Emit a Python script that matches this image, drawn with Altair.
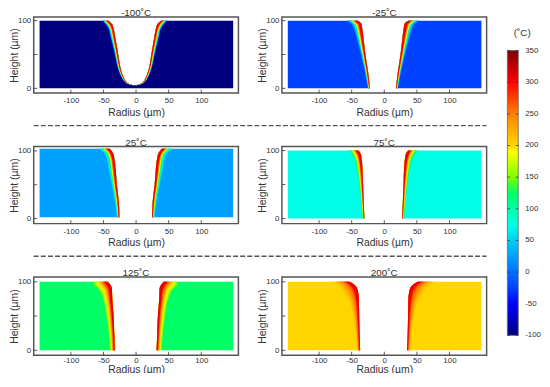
import altair as alt
import pandas as pd

FONT = "Liberation Sans"
INK = "#333333"
FRAME = "#555555"

stop_temps = [-100, -50, -25, 25, 75, 125, 150, 190, 200, 250, 300, 350]
stop_colors = ["#00007e", "#0000ff", "#0040ff", "#00a0ff", "#00ffe6", "#00ff66",
               "#80ff00", "#ffff00", "#ffd500", "#ff8000", "#ff0000", "#7f0000"]

x_ticks = [-100, -50, 0, 50, 100]
y_ticks = [0, 50, 100]
bar_ticks = [-100, -50, 0, 50, 100, 150, 200, 250, 300, 350]

panels = [
    dict(title="-100˚C", T=-100, c=-2, bottom=0, top=100, ydom=[-7, 105.5],
         H=[4.5, 5, 6, 11, 16, 25, 35, 50, 75, 90, 95, 100],
         W=[0, 4, 7.5, 14, 17, 20.5, 23, 25.5, 30, 33, 35, 41],
         levels={-40: [0.6, 1.2, 1.8, 2.8, 3.4, 4, 4.7, 5.5, 7.5, 9, 11, 9],
                 40: [.5, 1, 1.5, 2.4, 2.9, 3.4, 4, 4.7, 6.4, 7.6, 9.3, 7.6],
                 100: [.4, .8, 1.3, 2, 2.4, 2.9, 3.4, 4, 5.4, 6.5, 7.9, 6.5],
                 190: [.3, .7, 1, 1.6, 1.9, 2.3, 2.7, 3.2, 4.3, 5.2, 6.4, 5.2],
                 250: [.25, .5, .8, 1.3, 1.5, 1.8, 2.1, 2.5, 3.4, 4, 5, 4],
                 305: [.2, .4, .6, .9, 1, 1.3, 1.5, 1.8, 2.4, 2.9, 3.5, 2.9]}),
    dict(title="-25˚C", T=-25, c=-2, bottom=0, top=100, ydom=[-7, 105.5],
         H=[0, 25, 50, 75, 90, 95, 100],
         W=[20, 23, 27, 30, 32, 33, 39],
         levels={10: [3, 5, 7, 11, 14, 16, 17],
                 50: [2.6, 4.2, 5.9, 9.4, 12, 13.5, 14],
                 100: [2.2, 3.6, 5, 8, 10, 11.5, 12],
                 190: [1.7, 2.9, 4, 6.4, 8, 9.3, 10],
                 250: [1.4, 2.3, 3.1, 5, 6.3, 7.2, 7.6],
                 305: [1, 1.6, 2.2, 3.5, 4.5, 5.1, 5.4]}),
    dict(title="25˚C", T=25, c=-0.5, bottom=2, top=103, ydom=[-7.5, 106.5],
         H=[2, 25, 50, 75, 90, 97, 103],
         W=[25, 26, 29, 31, 33, 35, 40],
         levels={50: [4, 6, 8, 11, 12, 14, 17],
                 85: [3.4, 5.1, 6.8, 9.4, 10.2, 11.9, 14.5],
                 130: [2.9, 4.3, 5.8, 7.9, 8.6, 10, 12.2],
                 190: [2.3, 3.5, 4.6, 6.4, 7, 8.1, 9.9],
                 250: [1.8, 2.7, 3.6, 5, 5.4, 6.3, 7.7],
                 305: [1.3, 1.9, 2.6, 3.5, 3.8, 4.5, 5.4]}),
    dict(title="75˚C", T=75, c=-1.5, bottom=0, top=100, ydom=[-7.5, 106],
         H=[0, 25, 50, 75, 90, 95, 100],
         W=[29, 30, 31, 32, 33.5, 34.5, 38],
         levels={95: [3, 4.5, 6.5, 10, 13, 15, 16],
                 130: [2.6, 3.8, 5.5, 8.5, 11, 12.8, 13.6],
                 170: [2.2, 3.2, 4.7, 7.2, 9.4, 10.8, 11.5],
                 200: [1.8, 2.7, 3.9, 6, 7.8, 9, 9.6],
                 250: [1.4, 2, 2.9, 4.5, 5.9, 6.8, 7.2],
                 305: [1, 1.4, 2, 3.2, 4.2, 4.8, 5.1]}),
    dict(title="125˚C", T=125, c=-0.5, bottom=0, top=100, ydom=[-7, 107],
         H=[0, 25, 50, 75, 90, 95, 100],
         W=[32, 33, 34, 36, 36.5, 38.5, 43],
         levels={150: [7.5, 8.5, 11, 14, 21, 25, 22],
                 175: [6.4, 7.2, 9.4, 11.9, 17.9, 21.3, 18.7],
                 200: [5.3, 6, 7.7, 9.8, 14.7, 17.5, 15.4],
                 230: [4, 4.5, 5.8, 7.4, 11.1, 13.3, 11.7],
                 265: [3, 3.4, 4.4, 5.6, 8.4, 10, 8.8],
                 310: [1.9, 2.1, 2.8, 3.5, 5.3, 6.3, 5.5]}),
    dict(title="200˚C", T=200, c=-1, bottom=0, top=100, ydom=[-7, 107],
         H=[0, 25, 50, 75, 90, 97, 100],
         W=[36, 37, 37.5, 38, 40.5, 46.5, 53],
         levels={212: [5, 6, 9, 16, 24, 25, 26],
                 228: [4, 4.8, 7.2, 12.8, 19.2, 20, 20.8],
                 250: [3, 3.6, 5.4, 9.6, 14.4, 15, 15.6],
                 275: [2, 2.4, 3.6, 6.4, 9.6, 10, 10.4],
                 305: [1.3, 1.6, 2.3, 4.2, 6.2, 6.5, 6.8]}),
]

PANEL_W = 207
color_scale = alt.Scale(domain=stop_temps, range=stop_colors, interpolate="rgb")
x_scale = alt.Scale(domain=[-157, 157], nice=False, zero=False)
plain_label = "'' + datum.value"


def panel(p, height, label_pad=3.5, title_pad=3):
    y_scale = alt.Scale(domain=p["ydom"], nice=False, zero=False)
    xaxis = alt.Axis(values=x_ticks, ticks=False, domain=False, grid=False, labelFont=FONT,
                     labelExpr=plain_label,
                     labelFontSize=8, labelColor=INK, labelPadding=label_pad, title="Radius (µm)",
                     titleFont=FONT, titleFontSize=10.5, titleFontWeight="normal",
                     titleColor=INK, titlePadding=title_pad)
    yaxis = alt.Axis(values=y_ticks, ticks=False, domain=False, grid=False, labelFont=FONT,
                     labelExpr=plain_label,
                     labelFontSize=8, labelColor=INK, labelPadding=3, title="Height (µm)",
                     titleFont=FONT, titleFontSize=10.5, titleFontWeight="normal",
                     titleColor=INK, titlePadding=-2)
    base_x = alt.X("x:Q", scale=x_scale, axis=xaxis)
    base_y = alt.Y("y:Q", scale=y_scale, axis=yaxis)

    back = alt.Chart(pd.DataFrame({"x": [-148], "x2": [149], "y": [p["bottom"]],
                                   "y2": [p["top"]], "t": [p["T"]]})).mark_rect().encode(
        x=base_x, x2="x2:Q", y=base_y, y2="y2:Q",
        color=alt.Color("t:Q", scale=color_scale, legend=None))

    # the white opening runs just past the sample's edge so no sliver of it shows
    hole_h = list(p["H"])
    hole_h[-1] += 1
    if p["W"][0] > 0:
        hole_h[0] -= 1
    hole = alt.Chart(pd.DataFrame({
        "x": [p["c"] - w for w in p["W"]],
        "x2": [p["c"] + w for w in p["W"]],
        "y": hole_h})).mark_area(orient="horizontal", color="white", interpolate="monotone").encode(
        x=base_x, x2="x2:Q", y=base_y)

    rows = []
    for t, offs in p["levels"].items():
        for side in (-1, 1):
            for h, w, o in zip(p["H"], p["W"], offs):
                rows.append({"t": t, "side": side, "y": h,
                             "x": p["c"] + side * w,
                             "x2": p["c"] + side * (w + o)})
    bands = alt.Chart(pd.DataFrame(rows)).mark_area(orient="horizontal", interpolate="monotone").encode(
        x=base_x, x2="x2:Q", y=base_y,
        color=alt.Color("t:Q", scale=color_scale, legend=None),
        detail=["t:N", "side:N"])

    xt = alt.Chart(pd.DataFrame({"x": x_ticks})).mark_rule(color=INK, strokeWidth=0.8).encode(
        x=alt.X("x:Q", scale=x_scale), y=alt.value(height - 3.5), y2=alt.value(height))
    yt = alt.Chart(pd.DataFrame({"y": y_ticks})).mark_rule(color=INK, strokeWidth=0.8).encode(
        y=alt.Y("y:Q", scale=y_scale), x=alt.value(0), x2=alt.value(3.5))

    return alt.layer(back, hole, bands, xt, yt).properties(
        width=PANEL_W, height=height,
        title=alt.Title(p["title"], font=FONT, fontSize=10, fontWeight="normal",
                        color=INK, offset=-1),
        view=alt.ViewConfig(stroke=FRAME, strokeWidth=1.5, fill="white"))


def blank(width, height):
    return alt.Chart(pd.DataFrame({"a": [0]})).mark_point(opacity=0).encode(
        x=alt.value(0), y=alt.value(0)).properties(
        width=width, height=height, view=alt.ViewConfig(stroke=None))


def sep():
    return alt.Chart(pd.DataFrame({"a": [0]})).mark_rule(
        color=FRAME, strokeWidth=1.3, strokeDash=[5, 2.2]).encode(
        x=alt.value(0), x2=alt.value(458), y=alt.value(33)).properties(
        width=PANEL_W, height=54, view=alt.ViewConfig(stroke=None))


# Colour bar cell: starts 44px right of the second panel, drawn back towards it.
BAR_W = 1
BAR_L, BAR_R = -23, -12
bar_scale = alt.Scale(domain=[-100, 350], range=[322, 34], nice=False, zero=False)
gradient = alt.Gradient(gradient="linear", x1=0, x2=0, y1=1, y2=0,
                        stops=[alt.GradientStop(offset=(t + 100) / 450, color=c)
                               for t, c in zip(stop_temps, stop_colors)])
bar_rect = alt.Chart(pd.DataFrame({"y": [-100], "y2": [350]})).mark_rect(
    fill=gradient, stroke="#666666", strokeWidth=0.8).encode(
    x=alt.value(BAR_L), x2=alt.value(BAR_R),
    y=alt.Y("y:Q", scale=bar_scale, axis=None),
    y2="y2:Q")
tick_df = pd.DataFrame({"y": bar_ticks, "s": [str(v) for v in bar_ticks]})
bar_t1 = alt.Chart(tick_df).mark_rule(color=INK, strokeWidth=0.8).encode(
    y=alt.Y("y:Q", scale=bar_scale, axis=None), x=alt.value(BAR_L), x2=alt.value(BAR_L + 2.5))
bar_t2 = alt.Chart(tick_df).mark_rule(color=INK, strokeWidth=0.8).encode(
    y=alt.Y("y:Q", scale=bar_scale, axis=None), x=alt.value(BAR_R - 2.5), x2=alt.value(BAR_R))
bar_labels = alt.Chart(tick_df).mark_text(
    font=FONT, fontSize=8, color=INK, align="left", baseline="middle").encode(
    y=alt.Y("y:Q", scale=bar_scale, axis=None), x=alt.value(BAR_R + 7), text="s:N")
bar_title = alt.Chart(pd.DataFrame({"s": ["(˚C)"]})).mark_text(
    font=FONT, fontSize=10, color=INK, align="center", baseline="middle").encode(
    text="s:N", x=alt.value(BAR_L + 15), y=alt.value(16))
bar = alt.layer(bar_rect, bar_t1, bar_t2, bar_labels, bar_title).properties(
    width=BAR_W, height=77, view=alt.ViewConfig(stroke=None))

cells = [panel(panels[0], 77), panel(panels[1], 77), bar,
         sep(), blank(PANEL_W, 54), blank(BAR_W, 54),
         panel(panels[2], 78), panel(panels[3], 78), blank(BAR_W, 78),
         sep(), blank(PANEL_W, 54), blank(BAR_W, 54),
         panel(panels[4], 79, label_pad=1.5, title_pad=0),
         panel(panels[5], 79, label_pad=1.5, title_pad=0), blank(BAR_W, 79)]

chart = alt.concat(*cells, columns=3, spacing={"row": 0, "column": 44}, bounds="flush",
                   align="each").properties(
    background="white", padding={"top": -3, "left": 0, "right": 0, "bottom": -5})

chart.save("out.html", embed_options={"renderer": "svg", "actions": False})
